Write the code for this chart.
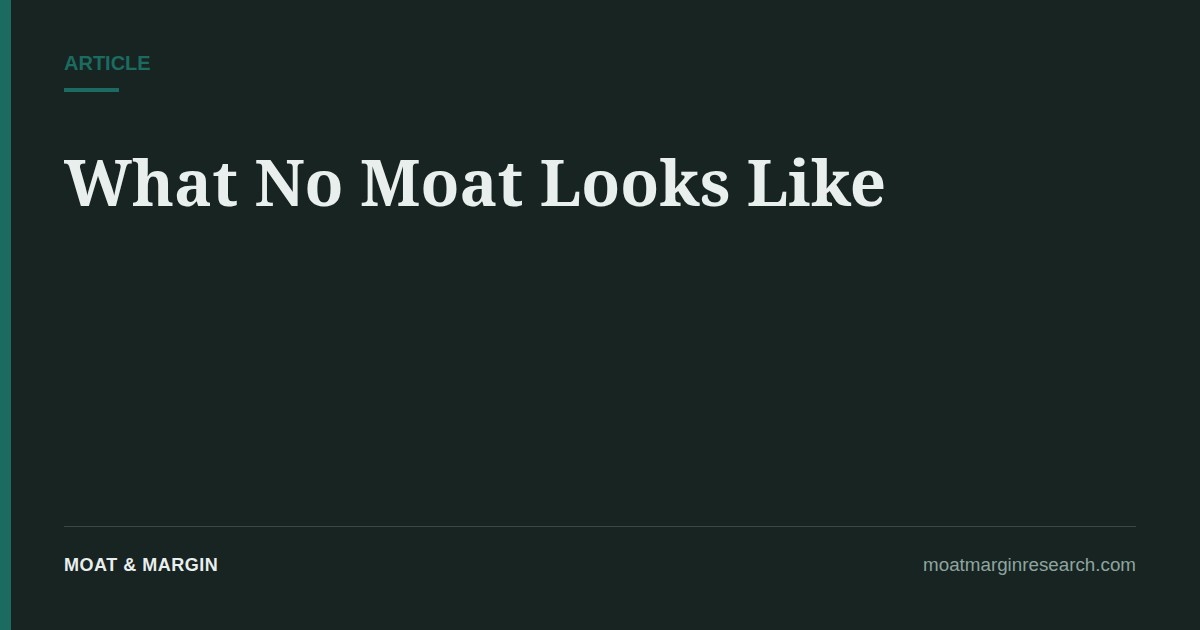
<!DOCTYPE html>
<html>
<head>
<meta charset="utf-8">
<script src="https://cdn.jsdelivr.net/npm/chart.js@4.4.1/dist/chart.umd.min.js"></script>
<style>
  html, body { margin: 0; padding: 0; }
  body {
    width: 1200px; height: 630px; overflow: hidden;
    background: #172422; position: relative;
    font-family: "Liberation Sans", Arial, sans-serif;
  }
  .edge { position: absolute; left: 0; top: 0; width: 11px; height: 630px; background: #1b6b60; }
  .kicker { position: absolute; left: 64px; top: 51px; font-size: 20px; font-weight: bold; color: #1b6b60; line-height: 24px; }
  .kicker-rule { position: absolute; left: 64px; top: 88px; width: 55px; height: 4px; background: #1b6b60; }
  .title { position: absolute; left: 64px; top: 142px; font-family: "Noto Serif", serif; font-weight: bold; font-size: 63.5px; line-height: 80px; color: #e9efed; white-space: nowrap; }
  .rule { position: absolute; left: 64px; top: 526px; width: 1072px; height: 1px; background: #3a4845; }
  .brand { position: absolute; left: 64px; top: 554px; font-size: 18px; font-weight: bold; letter-spacing: 0.5px; color: #e9efed; line-height: 22px; }
  .site { position: absolute; right: 64px; top: 554px; font-size: 18.8px; color: #8ea59f; line-height: 22px; }
</style>
</head>
<body>
<div class="edge"></div>
<div class="kicker">ARTICLE</div>
<div class="kicker-rule"></div>
<div class="title">What No Moat Looks Like</div>
<div class="rule"></div>
<div class="brand">MOAT &amp; MARGIN</div>
<div class="site">moatmarginresearch.com</div>
</body>
</html>
